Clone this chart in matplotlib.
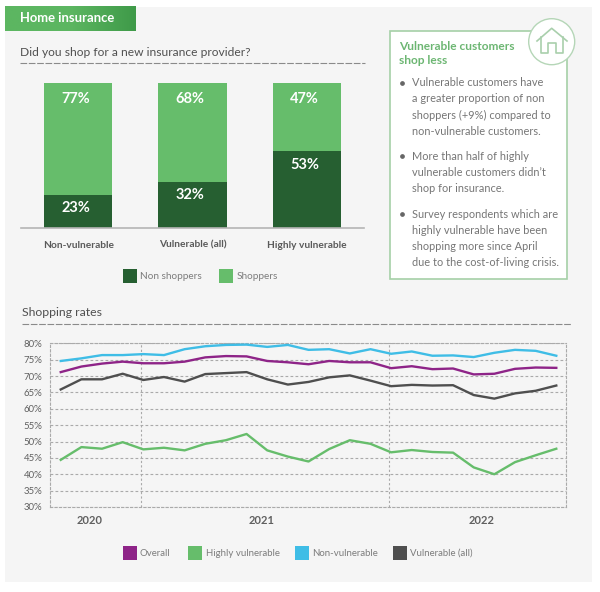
import numpy as np
import matplotlib
matplotlib.use("Agg")
import matplotlib.pyplot as plt
from matplotlib.patches import Rectangle, Circle
from matplotlib.colors import LinearSegmentedColormap

plt.rcParams['font.family'] = ['Lato', 'DejaVu Sans']

W, H = 600, 592
DARK = '#265f31'
LIGHT = '#66bd6b'
PURPLE = '#8e2488'
CYAN = '#3fbde6'
GREY = '#4f4f4f'
TXT = '#5a5a5a'

categories = ['Non-vulnerable', 'Vulnerable (all)', 'Highly vulnerable']
non_shoppers = [23, 32, 53]
shoppers = [77, 68, 47]

overall = [71.2, 72.9, 73.8, 74.4, 73.9, 73.9, 74.4, 75.7, 76.1, 76.0, 74.6, 74.2, 73.6,
           74.6, 74.2, 74.2, 72.4, 73.0, 72.1, 72.3, 70.5, 70.7, 72.2, 72.6, 72.5]
highly = [44.4, 48.3, 47.8, 49.8, 47.6, 48.1, 47.3, 49.3, 50.4, 52.3, 47.3, 45.4, 43.9,
          47.7, 50.4, 49.3, 46.7, 47.4, 46.8, 46.6, 42.1, 40.0, 43.7, 45.8, 47.8]
non_vuln = [74.6, 75.4, 76.4, 76.4, 76.7, 76.4, 78.2, 79.1, 79.5, 79.6, 78.9, 79.5, 78.0,
            78.2, 76.9, 78.2, 76.8, 77.5, 76.2, 76.3, 75.8, 77.1, 78.0, 77.7, 76.2]
vuln_all = [65.9, 69.0, 69.0, 70.7, 68.8, 69.7, 68.3, 70.6, 70.9, 71.2, 69.0, 67.4, 68.2,
            69.6, 70.2, 68.6, 66.9, 67.3, 67.1, 67.2, 64.2, 63.1, 64.7, 65.5, 67.1]
years = ['2020', '2021', '2022']
year_pos = [1.42, 9.72, 20.4]
year_breaks = [3.87, 15.9]
y_ticks = list(range(30, 85, 5))


def axpx(x0, y0, x1, y1, **kw):
    return fig.add_axes([x0 / W, 1 - y1 / H, (x1 - x0) / W, (y1 - y0) / H], **kw)


fig = plt.figure(figsize=(W / 100, H / 100), dpi=100, facecolor='white')

# overlay in pixel coordinates
bg = axpx(0, 0, W, H)
bg.set_xlim(0, W)
bg.set_ylim(H, 0)
bg.axis('off')
bg.add_patch(Rectangle((5, 7), 587, 575, fc='#f5f5f5', ec='none'))
cmap = LinearSegmentedColormap.from_list('b', ['#5cb661', '#5cb661', '#3f9a49'])
bg.imshow(np.linspace(0, 1, 128).reshape(1, -1), extent=(5, 136, 31, 6), cmap=cmap, aspect='auto', zorder=2)
bg.set_xlim(0, W)
bg.set_ylim(H, 0)
bg.text(20, 18.5, 'Home insurance', color='white', fontsize=9.4, fontweight='bold', va='center', zorder=3)
bg.text(20, 53, 'Did you shop for a new insurance provider?', color='#505050', fontsize=8.65, va='center')
bg.plot([20, 365], [62.5, 62.5], color='#8a8a8a', lw=0.8, ls=(0, (6, 1.5)))
bg.text(22, 313, 'Shopping rates', color='#505050', fontsize=8.85, va='center')
bg.plot([22, 571], [323.5, 323.5], color='#8a8a8a', lw=0.8, ls=(0, (6, 1.5)))

# callout
bg.add_patch(Rectangle((390, 30.5), 176.5, 248.5, fc='white', ec='#a5d0a7', lw=1.2, zorder=2))
bg.add_patch(Circle((551.7, 41.7), 23, fc='white', ec='#b5d6b7', lw=1.0, zorder=3))
bg.plot([537, 551.7, 567], [41, 28.3, 41], color='#a9cfac', lw=1.2, zorder=4)
bg.plot([541, 541, 548, 548, 556, 556, 563, 563], [37, 52.7, 52.7, 43, 43, 52.7, 52.7, 37],
        color='#a9cfac', lw=1.2, zorder=4)
bg.text(399, 46, 'Vulnerable customers', color='#6cb672', fontsize=8.6, fontweight='bold', va='center', zorder=4)
bg.text(399, 61, 'shop less', color='#6cb672', fontsize=8.6, fontweight='bold', va='center', zorder=4)
bullets = [
    (82.5, ['Vulnerable customers have', 'a greater proportion of non', 'shoppers (+9%) compared to', 'non-vulnerable customers.']),
    (156, ['More than half of highly', 'vulnerable customers didn\u2019t', 'shop for insurance.']),
    (214, ['Survey respondents which are', 'highly vulnerable have been', 'shopping more since April', 'due to the cost-of-living crisis.']),
]
for y0, lines in bullets:
    bg.plot([402], [y0], 'o', color='#666666', ms=2.4, zorder=4)
    for i, s in enumerate(lines):
        bg.text(411.5, y0 + i * 16.3, s, color='#767676', fontsize=7.95, va='center', zorder=4)

# stacked bars
a = axpx(21, 83.3, 364, 228)
a.patch.set_alpha(0)
x = np.arange(3)
a.bar(x, non_shoppers, width=0.6, color=DARK, label='Non shoppers')
a.bar(x, shoppers, width=0.6, bottom=non_shoppers, color=LIGHT, label='Shoppers')
a.set_xlim(-0.5, 2.5)
a.set_ylim(0, 100)
for i in range(3):
    a.text(i - 0.02, non_shoppers[i] - 9.3, f'{non_shoppers[i]}%', color='white',
           fontsize=10.5, fontweight='bold', ha='center', va='center')
    a.text(i - 0.02, 89.2, f'{shoppers[i]}%', color='white', fontsize=10.5, fontweight='bold', ha='center', va='center')
a.set_xticks(x, categories, color=TXT, fontsize=7.3, fontweight='bold')
a.tick_params(axis='x', length=0, pad=9)
a.set_yticks([])
for s in ['top', 'left', 'right']:
    a.spines[s].set_visible(False)
a.spines['bottom'].set_color('#b5b5b5')
a.spines['bottom'].set_linewidth(1.2)

# legend 1
for xs, col, lab in [(123, DARK, 'Non shoppers'), (219, LIGHT, 'Shoppers')]:
    bg.add_patch(Rectangle((xs, 269), 14, 14, fc=col, ec='none'))
    bg.text(xs + 17.5, 276.5, lab, color='#7c7c7c', fontsize=7.2, va='center')

# lines
b = axpx(50, 343.3, 566, 507)
b.patch.set_alpha(0)
t = np.arange(len(overall))
for vals, col in [(non_vuln, CYAN), (overall, PURPLE), (vuln_all, GREY), (highly, LIGHT)]:
    b.plot(t, vals, color=col, lw=1.7, solid_joinstyle='round', zorder=3)
b.set_xlim(-0.52, 24.47)
b.set_ylim(30, 80)
b.set_yticks(y_ticks, [f'{v}%' for v in y_ticks], color='#606060', fontsize=6.9)
b.tick_params(axis='y', length=0, pad=5.5)
b.set_xticks(year_pos, years, color='#606060', fontsize=8.0, fontweight='bold')
b.tick_params(axis='x', length=0, pad=6)
b.grid(axis='y', color='#aaaaaa', lw=0.8, ls=(0, (2.5, 2)), zorder=1)
for v in year_breaks:
    b.axvline(v, color='#aaaaaa', lw=0.8, ls=(0, (2, 2)), zorder=1)
for s in b.spines.values():
    s.set_color('#aaaaaa')
    s.set_linewidth(0.8)
    s.set_linestyle((0, (2, 2)))

# legend 2
for xs, col, lab in [(122.5, PURPLE, 'Overall'), (188, LIGHT, 'Highly vulnerable'),
                     (295, CYAN, 'Non-vulnerable'), (392.5, GREY, 'Vulnerable (all)')]:
    bg.add_patch(Rectangle((xs, 546), 14, 14, fc=col, ec='none'))
    bg.text(xs + 17.5, 553.5, lab, color='#7c7c7c', fontsize=6.95, va='center')

fig.savefig('out.png', dpi=100)
